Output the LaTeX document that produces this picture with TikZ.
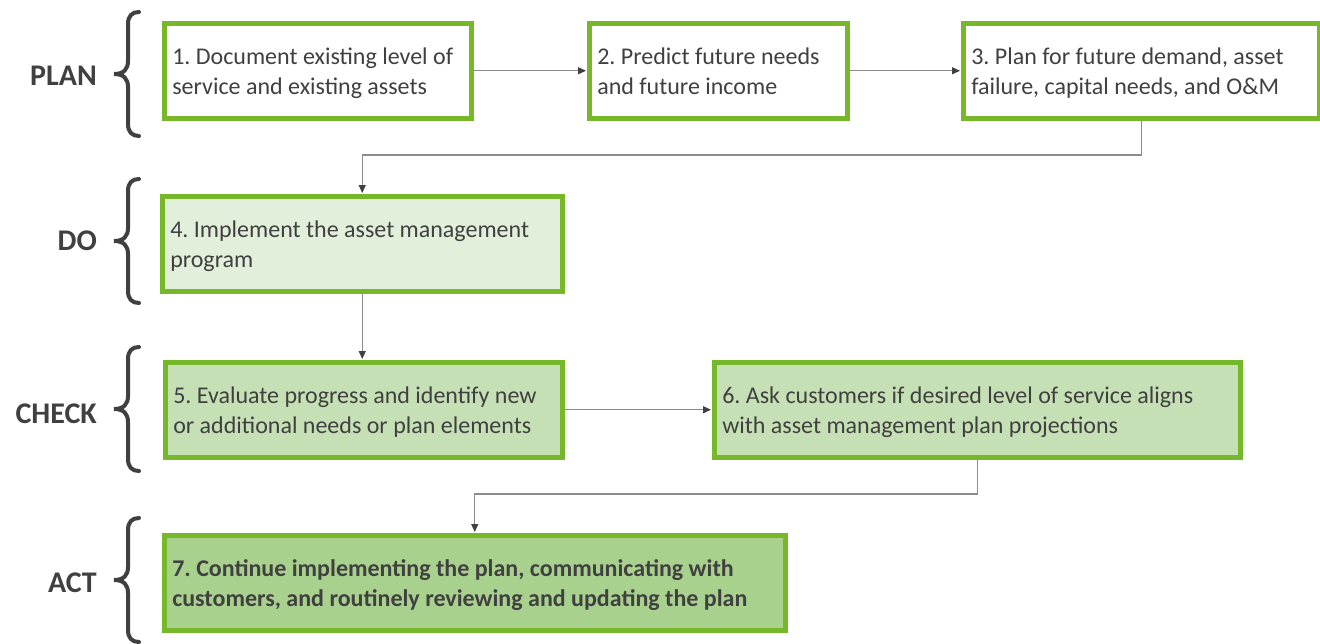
\documentclass[tikz,border=0pt]{standalone}
\usepackage{fontspec}
\setmainfont{Carlito}
\usetikzlibrary{arrows.meta}

\definecolor{stageedge}{HTML}{76B82A}
\definecolor{fillDo}{HTML}{E2EFDA}
\definecolor{fillCheck}{HTML}{C5E0B4}
\definecolor{fillAct}{HTML}{A9D18E}
\definecolor{ink}{HTML}{404040}
\definecolor{wire}{HTML}{8C8C8C}

\begin{document}
\frenchspacing
\begin{tikzpicture}[x=1pt,y=-1pt,
  stagebox/.style={draw=stageedge, line width=4.5pt, fill=white, rectangle,
    anchor=north west, minimum height=95pt, inner xsep=8pt, inner ysep=0pt,
    align=flush left, text=ink, text height=17pt, text depth=29pt,
    font=\fontsize{24}{29.3}\selectfont},
  phase/.style={anchor=base east, text=ink, inner sep=0pt,
    font=\fontsize{30}{36}\selectfont\bfseries},
  conn/.style={draw=wire, line width=1.3pt,
    -{Triangle[length=8pt,width=7pt,color=ink]}, shorten >=1pt},
  lbrace/.pic={
    \draw[ink, line width=4pt, line cap=round]
      (25,-62) .. controls (18,-62) and (14,-58) .. (14,-50)
      -- (14,-13) .. controls (14,-5) and (10,0) .. (0,0)
      .. controls (10,0) and (14,5) .. (14,13)
      -- (14,50) .. controls (14,58) and (18,62) .. (25,62);
  }]
\useasboundingbox (0,0) rectangle (1320,643);

% phase labels and braces
\node[phase] (lplan)  at (97,85)  {PLAN};
\node[phase] (ldo)    at (97,250) {DO};
\node[phase] (lcheck) at (97,423) {CHECK};
\node[phase] (lact)   at (97,592) {ACT};
\pic at (114,74)  {lbrace};
\pic at (114,241) {lbrace};
\pic at (114,409) {lbrace};
\pic at (114,580) {lbrace};

% plan steps
\node[stagebox, minimum width=307pt, text width=291pt] (b1) at (162,21)
  {1. Document existing level of\\service and existing assets};
\node[stagebox, minimum width=258pt, text width=242pt] (b2) at (587,21)
  {2. Predict future needs\\and future income};
\node[stagebox, minimum width=356pt, text width=340pt] (b3) at (961,21)
  {3. Plan for future demand, asset\\failure, capital needs, and O\&M};

% do
\node[stagebox, fill=fillDo, minimum width=400pt, text width=384pt] (b4) at (160,194)
  {4. Implement the asset management\\program};

% check
\node[stagebox, fill=fillCheck, minimum width=397pt, text width=381pt] (b5) at (163,360)
  {5. Evaluate progress and identify new\\or additional needs or plan elements};
\node[stagebox, fill=fillCheck, minimum width=526pt, text width=510pt] (b6) at (712,360)
  {6. Ask customers if desired level of service aligns\\with asset management plan projections};

% act
\node[stagebox, fill=fillAct, minimum width=621pt, text width=605pt,
  font=\fontsize{24}{29.3}\selectfont\bfseries] (b7) at (162,533)
  {7. Continue implementing the plan, communicating with\\customers, and routinely reviewing and updating the plan};

% connectors
\coordinate (j34) at (700,155);
\coordinate (j67) at (700,494);
\draw[conn] (b1) -- (b2);
\draw[conn] (b2) -- (b3);
\draw[conn] (b3.south) -- (b3.south |- j34) -| (b4.north);
\draw[conn] (b4.south) -- (b4.south |- b5.north);
\draw[conn] (b5) -- (b6);
\draw[conn] (b6.south) -- (b6.south |- j67) -| (b7.north);
\end{tikzpicture}
\end{document}
